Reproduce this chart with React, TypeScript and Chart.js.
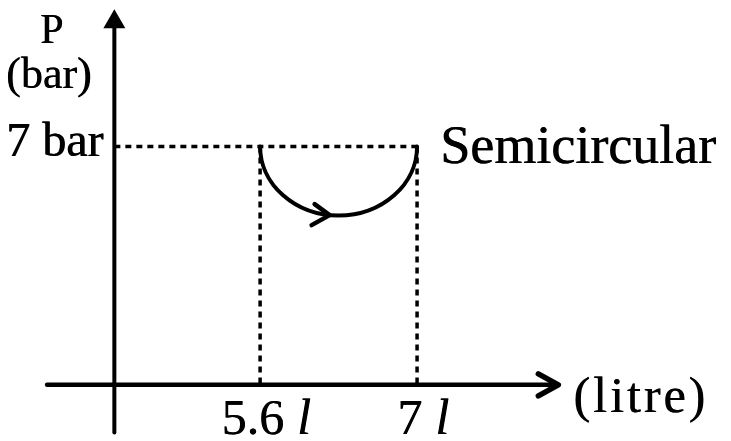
import React, { useEffect, useRef } from "react";
import { Chart, registerables } from "chart.js";

Chart.register(...registerables);

// ---- data (V in litre, P in bar) ----
const X_MIN = 3.28;
const X_MAX = 9.8;
const Y_MIN = -1.65;
const Y_MAX = 11.3;
const V_TICKS = [5.6, 7];
const V_TICK_LABELS = ["5.6", "7"];
const V_UNIT = "l";
const P_LEVEL = 7;
const P_TICK_LABEL = "7 bar";
const SEMI_V = [5.6, 7];
const SEMI_DEPTH = 2.03; // bar, depth of the curve below P_LEVEL
const ARROW_V = 6.22;
const ORIGIN_V = 4.3;
const X_AXIS_V = [3.7, 8.26];
const Y_AXIS_P = [-1.4, 11.03];
const CURVE_LABEL = "Semicircular";
const X_TITLE = "(litre)";
const Y_TITLE = ["P", "(bar)"];

const SERIF = '"Liberation Serif", "Times New Roman", serif';

function heavyText(ctx: CanvasRenderingContext2D, s: string, x: number, y: number) {
  ctx.fillText(s, x, y);
  ctx.fillText(s, x + 0.6, y);
}

const diagramPlugin = {
  id: "diagram",
  afterDatasetsDraw(chart: any) {
    const ctx: CanvasRenderingContext2D = chart.ctx;
    const xs = chart.scales.x;
    const ys = chart.scales.y;
    const X = (v: number) => xs.getPixelForValue(v);
    const Y = (p: number) => ys.getPixelForValue(p);
    ctx.save();
    ctx.strokeStyle = "#000";
    ctx.fillStyle = "#000";
    ctx.lineCap = "round";
    ctx.lineJoin = "round";

    // x axis
    const y0 = Y(0);
    const xTip = X(X_AXIS_V[1]);
    ctx.lineWidth = 4.5;
    ctx.beginPath();
    ctx.moveTo(X(X_AXIS_V[0]), y0);
    ctx.lineTo(xTip - 2, y0);
    ctx.stroke();
    ctx.lineWidth = 5.5;
    ctx.beginPath();
    ctx.moveTo(xTip - 20, y0 - 11);
    ctx.lineTo(xTip, y0);
    ctx.lineTo(xTip - 20, y0 + 11);
    ctx.stroke();

    // y axis
    const x0 = X(ORIGIN_V);
    const yTip = Y(Y_AXIS_P[1]);
    ctx.lineWidth = 4;
    ctx.beginPath();
    ctx.moveTo(x0, Y(Y_AXIS_P[0]));
    ctx.lineTo(x0, yTip + 10);
    ctx.stroke();
    ctx.beginPath();
    ctx.moveTo(x0, yTip);
    ctx.lineTo(x0 - 11, yTip + 19);
    ctx.lineTo(x0 + 11, yTip + 19);
    ctx.closePath();
    ctx.fill();

    // semicircular curve
    const cx = (X(SEMI_V[0]) + X(SEMI_V[1])) / 2;
    const cy = Y(P_LEVEL);
    const rx = (X(SEMI_V[1]) - X(SEMI_V[0])) / 2;
    const ry = Y(P_LEVEL - SEMI_DEPTH) - cy;
    ctx.lineWidth = 4;
    ctx.beginPath();
    ctx.ellipse(cx, cy, rx, ry, 0, 0, Math.PI);
    ctx.stroke();

    // direction arrow on the curve
    const ax = X(ARROW_V);
    const t = (ax - cx) / rx;
    const ay = cy + ry * Math.sqrt(Math.max(0, 1 - t * t));
    ctx.lineWidth = 4.5;
    ctx.beginPath();
    ctx.moveTo(ax - 15, ay - 11);
    ctx.lineTo(ax, ay);
    ctx.lineTo(ax - 18, ay + 10);
    ctx.stroke();

    // texts
    ctx.textBaseline = "alphabetic";
    ctx.textAlign = "left";
    ctx.font = `42px ${SERIF}`;
    heavyText(ctx, Y_TITLE[0], 40, 43);
    ctx.font = `44px ${SERIF}`;
    heavyText(ctx, Y_TITLE[1], 6, 88);

    ctx.textAlign = "right";
    ctx.font = `48px ${SERIF}`;
    heavyText(ctx, P_TICK_LABEL, x0 - 11, Y(P_LEVEL) + 10);

    ctx.textAlign = "left";
    ctx.font = `54px ${SERIF}`;
    heavyText(ctx, CURVE_LABEL, X(SEMI_V[1]) + 23, Y(P_LEVEL) + 17);

    ctx.font = `50px ${SERIF}`;
    (ctx as any).letterSpacing = "3px";
    heavyText(ctx, X_TITLE, xTip + 15, y0 + 27);
    (ctx as any).letterSpacing = "0px";

    V_TICKS.forEach((v, i) => {
      const num = V_TICK_LABELS[i];
      ctx.font = `50px ${SERIF}`;
      const wn = ctx.measureText(num).width;
      ctx.font = `italic 50px ${SERIF}`;
      const wl = ctx.measureText(V_UNIT).width;
      const gap = 13;
      const total = wn + gap + wl;
      const start = X(v) + 6 - total / 2;
      ctx.font = `50px ${SERIF}`;
      heavyText(ctx, num, start, y0 + 49);
      ctx.font = `italic 50px ${SERIF}`;
      heavyText(ctx, V_UNIT, start + wn + gap, y0 + 49);
    });

    ctx.restore();
  },
};

export default function App() {
  const ref = useRef<HTMLCanvasElement | null>(null);
  useEffect(() => {
    document.body.style.margin = "0";
    const canvas = ref.current!;
    const dashed = {
      borderColor: "#000",
      borderWidth: 3.5,
      borderDash: [6, 5],
      pointRadius: 0,
      fill: false,
      tension: 0,
    };
    const chart = new Chart(canvas, {
      type: "line",
      data: {
        datasets: [
          { ...dashed, data: [{ x: ORIGIN_V, y: P_LEVEL }, { x: SEMI_V[1], y: P_LEVEL }] },
          { ...dashed, data: [{ x: V_TICKS[0], y: P_LEVEL }, { x: V_TICKS[0], y: 0 }] },
          { ...dashed, data: [{ x: V_TICKS[1], y: P_LEVEL }, { x: V_TICKS[1], y: 0 }] },
        ],
      },
      options: {
        animation: false,
        responsive: false,
        devicePixelRatio: 1,
        layout: { padding: 0 },
        plugins: { legend: { display: false }, tooltip: { enabled: false } },
        scales: {
          x: { type: "linear", min: X_MIN, max: X_MAX, display: false },
          y: { type: "linear", min: Y_MIN, max: Y_MAX, display: false },
        },
      },
      plugins: [diagramPlugin],
    } as any);
    return () => chart.destroy();
  }, []);
  return (
    <div style={{ width: 731, height: 441, background: "#fff" }}>
      <canvas ref={ref} width={731} height={441} style={{ display: "block" }} />
    </div>
  );
}
